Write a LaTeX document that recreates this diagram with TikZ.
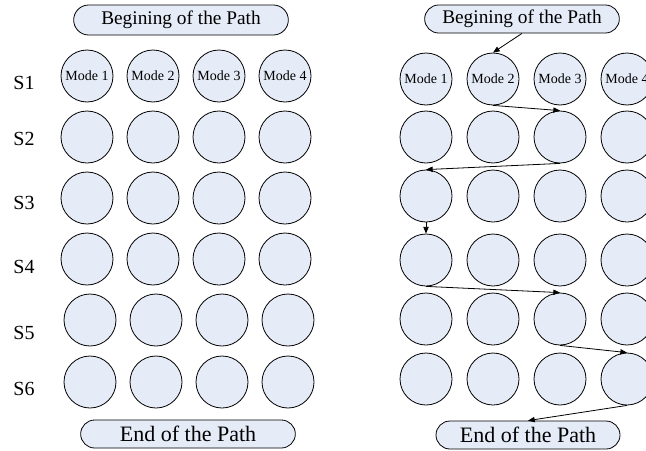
\documentclass[tikz,border=0pt]{standalone}
\usepackage{fontspec}
\setmainfont{Liberation Serif}
\usetikzlibrary{arrows.meta,shapes.misc}
\definecolor{cellfill}{HTML}{E6ECF7}
\tikzset{>={Triangle[length=5pt,width=4pt]},
  cell/.style={circle,draw=black,fill=cellfill,line width=.6pt,
    minimum size=39pt,inner sep=0pt},
  modelabel/.style={font=\fontsize{10.5}{12}\selectfont},
  endbox/.style={rounded rectangle,draw=black,fill=cellfill,line width=.6pt,
    inner sep=0pt},
  rowlabel/.style={font=\fontsize{15}{18}\selectfont},
  route/.style={->,line width=.6pt}}

\begin{document}
\begin{tikzpicture}[x=.75pt,y=-.75pt]
\useasboundingbox (0,0) rectangle (646,450);
\clip (0,0) rectangle (646,450);
% left: all modes
\node[endbox,minimum width=161pt,minimum height=22.5pt,font=\fontsize{14.5}{17}\selectfont]
  (Lbegin) at (181,20) {Begining of the Path};
\foreach \r/\y/\ly in {1/76/83,2/137/139,3/198/203,4/259/267,5/320/333,6/382/389}{
  \node[rowlabel] (S\r) at (24,\ly) {S\r};
  \foreach \c in {1,...,4}
    \node[cell] (L-\r-\c) at ({87+66*(\c-1)+(\r>4?3:0)},\y) {};
}
\foreach \c in {1,...,4}
  \node[modelabel] at (L-1-\c) {Mode \c};
\node[endbox,minimum width=161pt,minimum height=21pt,font=\fontsize{16.5}{19}\selectfont]
  (Lend) at (188,434) {End of the Path};
% right: one chosen path
\node[endbox,minimum width=146pt,minimum height=21pt,font=\fontsize{14.5}{17}\selectfont]
  (Rbegin) at (522,19) {Begining of the Path};
\foreach \r/\y in {1/79,2/137,3/196,4/260,5/319,6/379}{
  \foreach \c in {1,...,4}
    \node[cell] (R-\r-\c) at ({426+67*(\c-1)},\y) {};
}
\foreach \c in {1,...,4}
  \node[modelabel] at (R-1-\c) {Mode \c};
\node[endbox,minimum width=138pt,minimum height=21pt,font=\fontsize{16.5}{19}\selectfont]
  (Rend) at (528,435) {End of the Path};
\draw[route] (Rbegin.south) -- (R-1-2.north);
\draw[route] (R-1-2.south) -- (R-2-3.north);
\draw[route] (R-2-3.south) -- (R-3-1.north);
\draw[route] (R-3-1.south) -- (R-4-1.north);
\draw[route] (R-4-1.south) -- (R-5-3.north);
\draw[route] (R-5-3.south) -- (R-6-4.north);
\draw[route] (R-6-4.south) -- (Rend.north);
\end{tikzpicture}
\end{document}
